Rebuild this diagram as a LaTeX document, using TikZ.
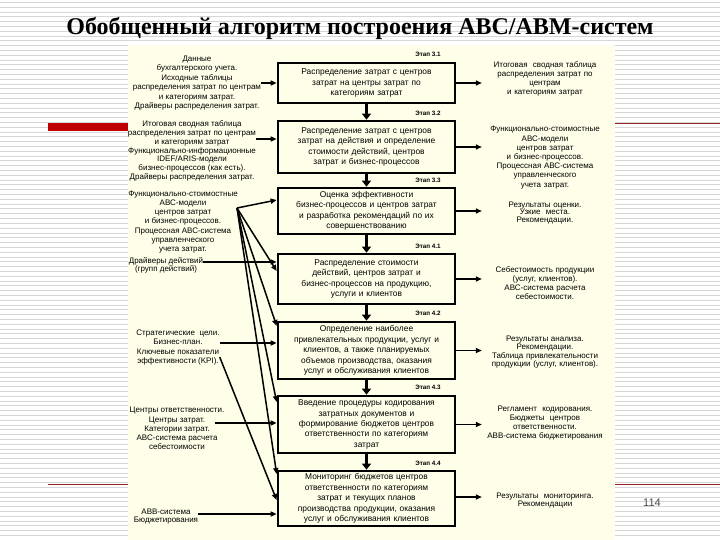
\documentclass[tikz,border=0pt]{standalone}
\usepackage{fontspec}
\setmainfont{Liberation Serif}
\setsansfont{Liberation Sans}
\usetikzlibrary{arrows.meta}

\definecolor{panelcream}{RGB}{255,254,232}
\definecolor{slidered}{RGB}{192,0,0}
\definecolor{rulered}{RGB}{150,40,40}
\definecolor{stripegray}{RGB}{214,214,214}

\tikzset{
  stagebox/.style={draw, line width=2.7pt, minimum width=177pt, text width=172pt,
    align=center, inner sep=1.5pt, font=\sffamily\fontsize{8.4}{10.4}\selectfont},
  stagetag/.style={inner sep=0pt, font=\sffamily\bfseries\fontsize{6.3}{7}\selectfont},
  sidenote/.style={align=center, inner sep=0pt, font=\sffamily\fontsize{8}{9.2}\selectfont},
  outnote/.style={sidenote, text width=126pt},
  feed/.style={line width=1.5pt, -{Triangle[length=6pt,width=5pt]}},
  flow/.style={line width=3pt, -{Triangle[length=6pt,width=9pt]}}
}

\begin{document}
\begin{tikzpicture}[x=1pt,y=-1pt]
  \useasboundingbox (0,0) rectangle (720,540);
  % фон слайда: полосы
  \foreach \y in {2.5,7.3,...,540}
    \draw[stripegray, line width=0.8pt] (0,\y) -- (720,\y);
  % красные линии шаблона
  \draw[rulered, line width=1pt] (128,123.5) -- (720,123.5);
  \draw[rulered, line width=0.8pt] (48,484) -- (720,484);
  \fill[slidered] (48,123) rectangle (128,131);
  % кремовая панель
  \fill[panelcream] (128,45) rectangle (615,540);

  % заголовок
  \node[font=\bfseries\fontsize{24}{28}\selectfont] (title) at (360,28)
    {Обобщенный алгоритм построения ABC/ABM-систем};

  % этапы
  \node[stagebox, minimum height=40pt] (s31) at (366.5,83)
    {Распределение затрат с центров\\ затрат на центры затрат по\\ категориям затрат};
  \node[stagebox, minimum height=52pt] (s32) at (366.5,147)
    {Распределение затрат с центров\\ затрат на действия и определение\\ стоимости действий, центров\\ затрат и бизнес-процессов};
  \node[stagebox, minimum height=46pt] (s33) at (366.5,211)
    {Оценка эффективности\\ бизнес-процессов и центров затрат\\ и разработка рекомендаций по их\\ совершенствованию};
  \node[stagebox, minimum height=50pt] (s41) at (366.5,279)
    {Распределение стоимости\\ действий, центров затрат и\\ бизнес-процессов на продукцию,\\ услуги и клиентов};
  \node[stagebox, minimum height=57pt] (s42) at (366.5,350.5)
    {Определение наиболее\\ привлекательных продукции, услуг и\\ клиентов, а также планируемых\\ объемов производства, оказания\\ услуг и обслуживания клиентов};
  \node[stagebox, minimum height=57pt] (s43) at (366.5,424.5)
    {Введение процедуры кодирования\\ затратных документов и\\ формирование бюджетов центров\\ ответственности по категориям\\ затрат};
  \node[stagebox, minimum height=55pt] (s44) at (366.5,498.5)
    {Мониторинг бюджетов центров\\ ответственности по категориям\\ затрат и текущих планов\\ производства продукции, оказания\\ услуг и обслуживания клиентов};

  % подписи этапов
  \node[stagetag] (t31) at (428,54) {Этап 3.1};
  \node[stagetag] (t32) at (428,113) {Этап 3.2};
  \node[stagetag] (t33) at (428,180) {Этап 3.3};
  \node[stagetag] (t41) at (428,246) {Этап 4.1};
  \node[stagetag] (t42) at (428,313) {Этап 4.2};
  \node[stagetag] (t43) at (428,387) {Этап 4.3};
  \node[stagetag] (t44) at (428,463) {Этап 4.4};

  % стрелки между этапами
  \draw[flow] (s31) -- (s32);
  \draw[flow] (s32) -- (s33);
  \draw[flow] (s33) -- (s41);
  \draw[flow] (s41) -- (s42);
  \draw[flow] (s42) -- (s43);
  \draw[flow] (s43) -- (s44);

  % входы слева
  \node[sidenote, font=\sffamily\fontsize{8}{9.4}\selectfont] (l1) at (197,83)
    {Данные\\ бухгалтерского учета.\\ Исходные таблицы\\ распределения затрат по центрам\\ и категориям затрат.\\ Драйверы распределения затрат.};
  \node[sidenote, font=\sffamily\fontsize{8}{8.8}\selectfont] (l2) at (192,151)
    {Итоговая сводная таблица\\ распределения затрат по центрам\\ и категориям затрат\\ Функционально-информационные\\ IDEF/ARIS-модели\\ бизнес-процессов (как есть).\\ Драйверы распределения затрат.};
  \node[sidenote] (l3) at (183,222)
    {Функционально-стоимостные\\ АВС-модели\\ центров затрат\\ и бизнес-процессов.\\ Процессная АВС-система\\ управленческого\\ учета затрат.};
  \node[sidenote, font=\sffamily\fontsize{8}{8}\selectfont] (l4) at (166,265)
    {Драйверы действий\\ (групп действий)};
  \node[sidenote] (l5) at (178,347.5)
    {Стратегические\ \ цели.\\ Бизнес-план.\\ Ключевые показатели\\ эффективности (KPI).};
  \node[sidenote] (l6) at (177,428.5)
    {Центры ответственности.\\ Центры затрат.\\ Категории затрат.\\ ABC-система расчета\\ себестоимости};
  \node[sidenote, font=\sffamily\fontsize{8}{8}\selectfont] (l7) at (166,517)
    {ABB-система\\ Бюджетирования};

  \coordinate (fan) at (237,208);
  \coordinate (l4out) at ([yshift=3pt]l4.east);
  \coordinate (l5out) at ([yshift=4.5pt]l5.east);
  \coordinate (l6out) at ([xshift=-10pt,yshift=5.5pt]l6.east);
  \coordinate (l7out) at ([yshift=3pt]l7.east);
  \coordinate (kpi) at ([yshift=8pt]l5.south east);

  \draw[feed] (l1.east |- s31.west) -- (s31.west);
  \draw[feed] (l2.east |- 0,139) -- ([yshift=8pt]s32.west);
  \draw[feed] (l4out) -- (l4out -| s41.west);
  \draw[feed] (l5out) -- (l5out -| s42.west);
  \draw[feed] (l6out) -- (l6out -| s43.west);
  \draw[feed] (l7out) -- (l7out -| s44.west);
  % веер от ABC-моделей
  \draw[feed] (fan) -- ([yshift=11pt]s33.west);
  \draw[feed] (fan) -- ([yshift=8pt]s41.west);
  \draw[feed] (fan) -- ([yshift=24.5pt]s42.west);
  \draw[feed] (fan) -- ([yshift=22.5pt]s43.west);
  \draw[feed] (fan) -- ([yshift=24.5pt]s44.west);
  \draw[feed] (kpi) -- ([yshift=-1.5pt]s44.west);

  % результаты справа
  \node[outnote] (o31) at (545,79)
    {Итоговая\ \ сводная таблица\\ распределения затрат по\\ центрам\\ и категориям затрат};
  \node[outnote] (o32) at (545,157.5)
    {Функционально-стоимостные\\ АВС-модели\\ центров затрат\\ и бизнес-процессов.\\ Процессная АВС-система\\ управленческого\\ учета затрат.};
  \node[outnote, font=\sffamily\fontsize{8}{7.8}\selectfont] (o33) at (545,213)
    {Результаты оценки.\\ Узкие\ \ места.\\ Рекомендации.};
  \node[outnote, font=\sffamily\fontsize{8}{9}\selectfont] (o34) at (545,283.5)
    {Себестоимость продукции\\ (услуг, клиентов).\\ АВС-система расчета\\ себестоимости.};
  \node[outnote, font=\sffamily\fontsize{8}{8.5}\selectfont] (o35) at (545,352)
    {Результаты анализа.\\ Рекомендации.\\ Таблица привлекательности\\ продукции (услуг, клиентов).};
  \node[outnote, font=\sffamily\fontsize{8}{9}\selectfont] (o36) at (545,423)
    {Регламент\ \ кодирования.\\ Бюджеты\ \ центров\\ ответственности.\\ ABB-система бюджетирования};
  \node[outnote, font=\sffamily\fontsize{8}{8}\selectfont] (o37) at (545,501)
    {Результаты\ \ мониторинга.\\ Рекомендации};

  \draw[feed] (s31.east) -- (o31.west |- s31.east);
  \draw[feed] (s32.east) -- (o32.west |- s32.east);
  \draw[feed] (s33.east) -- (o33.west |- s33.east);
  \draw[feed] (s41.east) -- (o34.west |- s41.east);
  \draw[feed] (s42.east) -- (o35.west |- s42.east);
  \draw[feed] (s43.east) -- (o36.west |- s43.east);
  \draw[feed] ([yshift=1.5pt]s44.east) -- (o37.west |- 0,497);

  % номер слайда
  \node[text=gray!60!black, font=\sffamily\fontsize{11}{12}\selectfont] (pnum) at (652,503) {114};
\end{tikzpicture}
\end{document}
